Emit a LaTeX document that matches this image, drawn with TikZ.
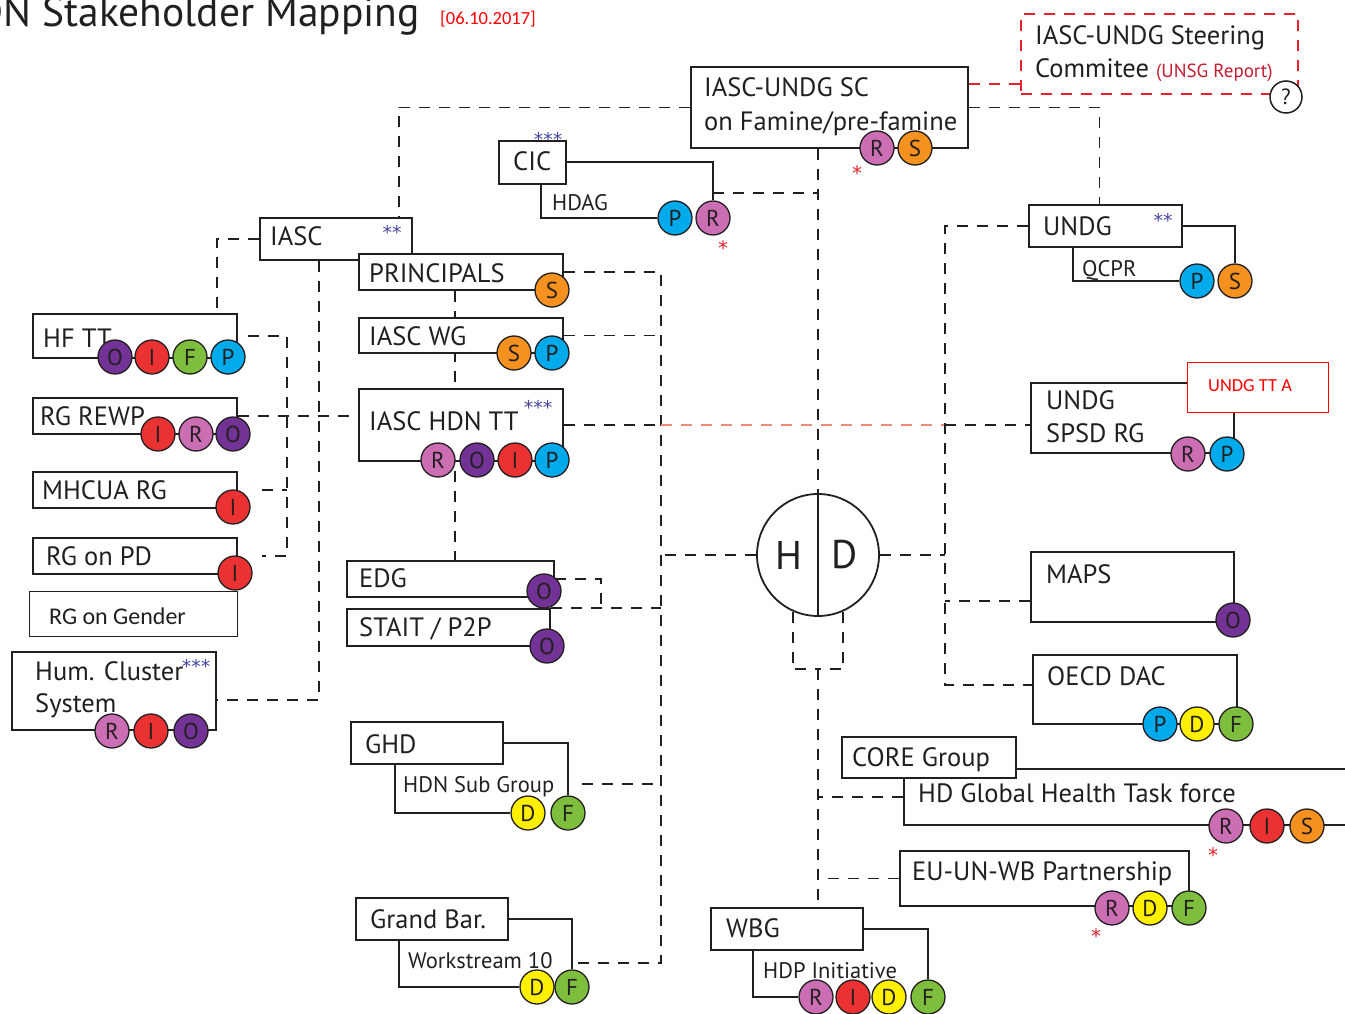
\documentclass[tikz,border=0pt]{standalone}
\usepackage{fontspec}
\setmainfont{PT Sans}
\newfontfamily\calfont{Carlito}
\newfontfamily\starfont{DejaVu Sans}
\usetikzlibrary{positioning}
\pgfdeclarelayer{background}
\pgfsetlayers{background,main}

\definecolor{ink}{RGB}{35,31,32}
\definecolor{colR}{RGB}{204,110,180}
\definecolor{colS}{RGB}{245,145,30}
\definecolor{colP}{RGB}{0,170,235}
\definecolor{colO}{RGB}{115,50,150}
\definecolor{colI}{RGB}{235,50,50}
\definecolor{colF}{RGB}{125,190,60}
\definecolor{colD}{RGB}{255,240,0}
\definecolor{starblue}{RGB}{70,70,160}
\definecolor{alert}{RGB}{225,35,45}
\definecolor{maroon}{RGB}{195,30,50}
\definecolor{brightred}{RGB}{255,0,0}
\definecolor{salmon}{RGB}{235,140,120}

\tikzset{
  box/.style 2 args={rectangle, draw=ink, line width=1.8pt, fill=white, inner sep=0pt,
    anchor=north west, minimum width=#1, minimum height=#2},
  big/.style={font=\fontsize{26.5}{30}\selectfont, text=ink, inner sep=0pt, anchor=base west},
  small/.style={font=\fontsize{22.5}{24}\selectfont, text=ink, inner sep=0pt, anchor=base west},
  badge/.style={circle, draw=ink, line width=1.3pt, fill=col#1, minimum size=34pt,
    inner sep=0pt, text=ink, font=\fontsize{23}{23}\selectfont},
  link/.style={draw=ink, line width=1.7pt, dash pattern=on 11pt off 9pt},
  wire/.style={draw=ink, line width=1.8pt},
  stars/.style={text=starblue, font=\starfont\fontsize{19}{19}\selectfont, inner sep=0pt, anchor=base},
  redstar/.style={text=alert, font=\starfont\fontsize{20}{20}\selectfont, inner sep=0pt, anchor=base}
}

\begin{document}
\begin{tikzpicture}[x=1pt, y=-1pt]
\useasboundingbox (0,0) rectangle (1345,1014);

% title
\node[anchor=base east, font=\fontsize{41.5}{44}\selectfont, text=ink, inner sep=0pt] (title) at (420,27) {HDN Stakeholder Mapping};
\node[anchor=base west, font=\calfont\fontsize{18.5}{18.5}\selectfont, text=brightred, inner sep=0pt] (date) at (440,25) {[06.10.2017]};

% boxes
\node[box={277pt}{80pt}, draw=alert, dash pattern=on 11pt off 9pt] (steer) at (1020,13) {};
\node[box={277pt}{81pt}] (sc) at (690,66) {};
\node[box={67pt}{43pt}] (cic) at (498,140) {};
\node[box={152pt}{42pt}] (iasc) at (259,217) {};
\node[box={204pt}{36pt}] (principals) at (358,253) {};
\node[box={204pt}{35pt}] (iascwg) at (358,317) {};
\node[box={204pt}{72pt}] (hdntt) at (358,388) {};
\node[box={204pt}{44pt}] (hftt) at (32,313) {};
\node[box={204pt}{36pt}] (rgrewp) at (32,397) {};
\node[box={204pt}{36pt}] (mhcua) at (32,471) {};
\node[box={204pt}{36pt}] (rgpd) at (32,537) {};
\node[box={208pt}{45pt}, line width=1.3pt] (gender) at (29,591) {};
\node[box={204pt}{78pt}] (hum) at (11,651) {};
\node[box={207pt}{36pt}] (edg) at (346,560) {};
\node[box={203pt}{37pt}] (stait) at (346,608) {};
\node[box={152pt}{42pt}] (ghd) at (350,721) {};
\node[box={152pt}{42pt}] (gbar) at (355,897) {};
\node[box={152pt}{42pt}] (wbg) at (710,907) {};
\node[box={153pt}{42pt}] (undg) at (1028,204) {};
\node[box={203pt}{70pt}] (spsd) at (1030,382) {};
\node[box={141pt}{50pt}, draw=brightred, line width=1.2pt] (tta) at (1187,362) {};
\node[box={203pt}{70pt}] (maps) at (1030,551) {};
\node[box={204pt}{69pt}] (oecd) at (1032,654) {};
\node[box={460pt}{56pt}] (ghtf) at (903,768) {};
\node[box={174pt}{41pt}] (core) at (841,736) {};
\node[box={289pt}{55pt}] (eu) at (899,850) {};

% hub
\node[circle, draw=ink, line width=1.8pt, fill=white, minimum size=122pt, inner sep=0pt] (hd) at (818,555) {};
\draw[wire] (hd.north) -- (hd.south);
\node[font=\fontsize{40}{40}\selectfont, text=ink] (hdH) at (789,555) {H};
\node[font=\fontsize{40}{40}\selectfont, text=ink] (hdD) at (845,555) {D};

% labels
\node[big] (scT1) at (704,97) {IASC-UNDG SC};
\node[big] (scT2) at (704,131) {on Famine/pre-famine};
\node[big] (steerT1) at (1035,45) {IASC-UNDG Steering};
\node[big] (steerT2) at (1035,78) {Commitee \textcolor{maroon}{\fontsize{19}{19}\selectfont(UNSG Report)}};
\node[big] (cicT) at (513,171) {CIC};
\node[small] (hdagT) at (552,211) {HDAG};
\node[big] (iascT) at (270,245) {IASC};
\node[big] (prT) at (369,282) {PRINCIPALS};
\node[big] (wgT) at (369,345) {IASC WG};
\node[big] (hdnT) at (369,430) {IASC HDN TT};
\node[big] (hfT) at (43,347) {HF TT};
\node[big] (rewpT) at (40,425) {RG REWP};
\node[big] (mhT) at (42,499) {MHCUA RG};
\node[big] (pdT) at (46,565) {RG on PD};
\node[anchor=base west, font=\calfont\fontsize{24}{24}\selectfont, text=ink, inner sep=0pt] (genT) at (49,624) {RG on Gender};
\node[big] (humT1) at (35,680) {Hum. Cluster};
\node[big] (humT2) at (35,712) {System};
\node[big] (edgT) at (359,587) {EDG};
\node[big] (staitT) at (359,636) {STAIT / P2P};
\node[big] (ghdT) at (365,753) {GHD};
\node[small] (subT) at (403,792) {HDN Sub Group};
\node[big] (gbT) at (370,928) {Grand Bar.};
\node[small] (wsT) at (408,968) {Workstream 10};
\node[big] (wbgT) at (726,937) {WBG};
\node[small] (hdpT) at (763,978) {HDP Initiative};
\node[big] (undgT) at (1043,235) {UNDG};
\node[small] (qcprT) at (1082,276) {QCPR};
\node[big] (spsdT1) at (1046,409) {UNDG};
\node[big] (spsdT2) at (1046,442) {SPSD RG};
\node[anchor=base west, font=\calfont\fontsize{18.4}{18.4}\selectfont, text=brightred, inner sep=0pt] (ttaT) at (1208,391) {UNDG TT A};
\node[big] (mapsT) at (1046,583) {MAPS};
\node[big] (oecdT) at (1047,685) {OECD DAC};
\node[big] (coreT) at (852,766) {CORE Group};
\node[big] (ghtfT) at (918,802) {HD Global Health Task force};
\node[big] (euT) at (912,880) {EU-UN-WB Partnership};

% stars
\node[stars] (cicS) at (548,147) {***};
\node[stars] (iascS) at (392,240) {**};
\node[stars] (hdnS) at (538,414) {***};
\node[stars] (humS) at (196,673) {***};
\node[stars] (undgS) at (1163,227) {**};
\node[redstar] (scX) at (857,181) {*};
\node[redstar] (cicX) at (723,255) {*};
\node[redstar] (ghtfX) at (1213,862) {*};
\node[redstar] (euX) at (1096,943) {*};

% badges
\foreach \t/\x [count=\i] in {R/877,S/915} \node[badge=\t] (sc\i) at (\x,148) {\t};
\foreach \t/\x [count=\i] in {P/675,R/713} \node[badge=\t] (cic\i) at (\x,218) {\t};
\node[badge=S] (pr1) at (552,290) {S};
\foreach \t/\x [count=\i] in {S/514,P/552} \node[badge=\t] (wg\i) at (\x,353) {\t};
\foreach \t/\x [count=\i] in {R/438,O/477,I/515,P/552} \node[badge=\t] (hdn\i) at (\x,460) {\t};
\foreach \t/\x [count=\i] in {O/115,I/152,F/190,P/228} \node[badge=\t] (hf\i) at (\x,357) {\t};
\foreach \t/\x [count=\i] in {I/158,R/196,O/233} \node[badge=\t] (rewp\i) at (\x,434) {\t};
\node[badge=I] (mh1) at (233,507) {I};
\node[badge=I] (pd1) at (235,573) {I};
\foreach \t/\x [count=\i] in {R/112,I/151,O/191} \node[badge=\t] (hum\i) at (\x,731) {\t};
\node[badge=O] (edg1) at (544,591) {O};
\node[badge=O] (stait1) at (547,646) {O};
\foreach \t/\x [count=\i] in {D/528,F/568} \node[badge=\t] (ghd\i) at (\x,813) {\t};
\foreach \t/\x [count=\i] in {D/537,F/572} \node[badge=\t] (gbar\i) at (\x,987) {\t};
\foreach \t/\x [count=\i] in {R/816,I/853,D/889,F/928} \node[badge=\t] (wbg\i) at (\x,997) {\t};
\foreach \t/\x [count=\i] in {P/1197,S/1235} \node[badge=\t] (undg\i) at (\x,281) {\t};
\foreach \t/\x [count=\i] in {R/1188,P/1227} \node[badge=\t] (spsd\i) at (\x,454) {\t};
\node[badge=O] (maps1) at (1233,620) {O};
\foreach \t/\x [count=\i] in {P/1160,D/1197,F/1236} \node[badge=\t] (oecd\i) at (\x,724) {\t};
\foreach \t/\x [count=\i] in {R/1226,I/1267,S/1307} \node[badge=\t] (ghtf\i) at (\x,826) {\t};
\foreach \t/\x [count=\i] in {R/1112,D/1150,F/1189} \node[badge=\t] (eu\i) at (\x,908) {\t};
\node[circle, draw=ink, fill=white, line width=1.5pt, minimum size=32pt, inner sep=0pt, text=ink, font=\fontsize{22}{22}\selectfont] (qmark) at (1286,97) {?};

% junctions
\coordinate (jIasc) at (399,217);
\coordinate (jSteer) at (1020,84);
\coordinate (hdagJ) at (713,193);
\coordinate (humJ) at (319,700);
\coordinate (spineJ) at (455,0);
\coordinate (trunkR) at (661,963);
\coordinate (trunkL) at (945,685);
\coordinate (ghdJ) at (582,784);
\coordinate (hdB) at (818,669);

\begin{pgfonlayer}{background}
% dashed links
\draw[link] (sc.west) -| (jIasc);
\draw[link, draw=alert] (sc.east |- jSteer) -- (jSteer);
\draw[link] (sc.east) -| ([xshift=-6pt]undg.north);
\draw[link] (hd.north |- sc.south) -- (hd.north);
\draw[link] (hdagJ) -- (hdagJ -| hd.north);
\draw[link] (iasc.west) -| ([xshift=-21pt]hftt.north east);
\draw[link] (iasc.south -| humJ) -- (humJ) -- (humJ -| hum.east);
\draw[link] ([xshift=10pt]hftt.east) -| ([xshift=49pt]rgpd.east) -- ([xshift=24pt]rgpd.east);
\draw[link] ([xshift=24pt]mhcua.east) -- ([xshift=49pt]mhcua.east);
\draw[link] (rgrewp.east) -- (rgrewp.east -| hdntt.west);
\draw[link] (principals.south -| spineJ) -- (edg.north -| spineJ);
\draw[link] (principals.east) -| (trunkR) -- (trunkR -| gbar2.north);
\draw[link] (iascwg.east) -- (iascwg.east -| trunkR);
\draw[link] (hdntt.east) -- (hdntt.east -| trunkR);
\draw[link, draw=salmon] (hdntt.east -| trunkR) -- (hdntt.east -| trunkL);
\draw[link] (hdntt.east -| trunkL) -- (hdntt.east -| spsd.west);
\draw[link] (edg.east) -| ([xshift=50pt]stait.north east);
\draw[link] (stait.north east) -- (stait.north east -| trunkR);
\draw[link] (ghdJ) -- (ghdJ -| trunkR);
\draw[link] (hd.west) -- (hd.west -| trunkR);
\draw[link] (hd.east) -- (hd.east -| trunkL);
\draw[link] (undg.west) -| (trunkL) -- (trunkL -| oecd.west);
\draw[link] ([yshift=-14pt]maps.west) -- ([yshift=-14pt]maps.west -| trunkL);
\draw[link] (hd.246) |- (hdB);
\draw[link] (hd.294) |- (hdB);
\draw[link] (hdB) -- (hdB |- wbg.north);
\draw[link] (ghtf.west) -- (ghtf.west -| hdB);
\draw[link] (eu.west) -- (eu.west -| hdB);
% sub groups
\draw[wire] (cic.east) -| (cic2.north);
\draw[wire] ([xshift=43pt]cic.south west) |- (cic1.west);
\draw[wire] (undg.east) -| (undg2.north);
\draw[wire] ([xshift=45pt]undg.south west) |- (undg1.west);
\draw[wire] (ghd.east) -| (ghd2.north);
\draw[wire] ([xshift=45pt]ghd.south west) |- (ghd1.west);
\draw[wire] (gbar.east) -| (gbar2.north);
\draw[wire] ([xshift=44pt]gbar.south west) |- (gbar1.west);
\draw[wire] (wbg.east) -| (wbg4.north);
\draw[wire] ([xshift=43pt]wbg.south west) |- (wbg1.west);
\end{pgfonlayer}
\end{tikzpicture}
\end{document}
